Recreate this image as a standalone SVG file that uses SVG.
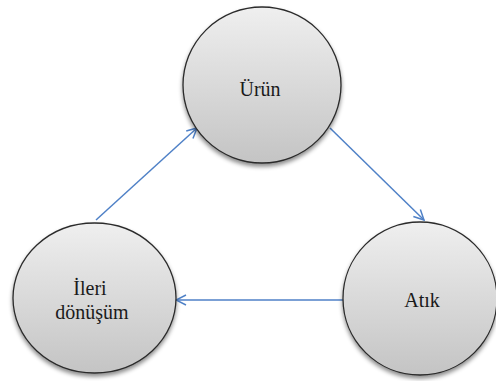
<svg xmlns="http://www.w3.org/2000/svg" width="496" height="381" viewBox="0 0 496 381">
  <defs>
    <linearGradient id="ball" x1="0" y1="0" x2="0" y2="1">
      <stop offset="0" stop-color="#efefef"/>
      <stop offset="1" stop-color="#c4c4c4"/>
    </linearGradient>
    <filter id="shade" x="-20%" y="-20%" width="140%" height="140%">
      <feDropShadow dx="0" dy="3" stdDeviation="2" flood-color="#000" flood-opacity="0.45"/>
    </filter>
    <marker id="head" viewBox="0 0 12 12" refX="11" refY="6" markerWidth="12" markerHeight="12" markerUnits="userSpaceOnUse" orient="auto">
      <path d="M1,1 L11,6 L1,11" fill="none" stroke="#4f81c7" stroke-width="1.5"/>
    </marker>
    <style>
      ellipse.ball { fill: url(#ball); stroke: #2b2b2b; stroke-width: 1.3; filter: url(#shade); }
      text.lbl { font-family: "Liberation Serif", "Times New Roman", "DejaVu Serif", serif; font-size: 20px; fill: #1a1a1a; text-anchor: middle; }
      line.edge { fill: none; stroke: #4f81c7; stroke-width: 1.5; marker-end: url(#head); }
    </style>
  </defs>

  <g id="connectors">
    <line class="edge" x1="96" y1="220" x2="197" y2="128"/>
    <line class="edge" x1="330" y1="128" x2="424" y2="220"/>
    <line class="edge" x1="343" y1="300" x2="176" y2="300"/>
  </g>

  <g id="urun">
    <ellipse class="ball" cx="262" cy="85" rx="79" ry="78"/>
    <text class="lbl" x="260" y="96">Ürün</text>
  </g>

  <g id="ileri-donusum">
    <ellipse class="ball" cx="94.5" cy="298" rx="81.5" ry="75"/>
    <text class="lbl" x="90" y="295">İleri</text>
    <text class="lbl" x="92" y="319">dönüşüm</text>
  </g>

  <g id="atik">
    <ellipse class="ball" cx="420" cy="298.5" rx="77" ry="76.5"/>
    <text class="lbl" x="422" y="307">Atık</text>
  </g>
</svg>
